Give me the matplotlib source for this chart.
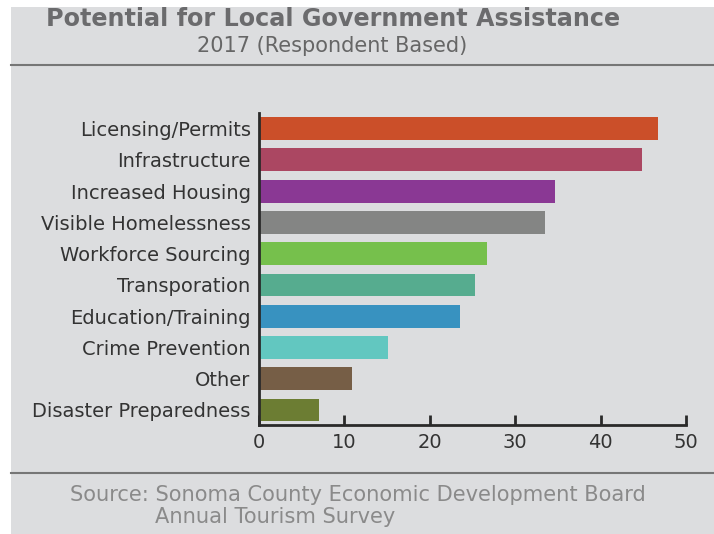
import matplotlib
matplotlib.use("Agg")
import matplotlib.pyplot as plt
from matplotlib.patches import Rectangle
from matplotlib.lines import Line2D

categories = ["Licensing/Permits", "Infrastructure", "Increased Housing",
              "Visible Homelessness", "Workforce Sourcing", "Transporation",
              "Education/Training", "Crime Prevention", "Other",
              "Disaster Preparedness"]
values = [46.7, 44.9, 34.7, 33.5, 26.7, 25.3, 23.5, 15.1, 10.9, 7.0]
colors = ["#cb4f29", "#ab4762", "#8a3894", "#848584", "#76c04c",
          "#56ac8f", "#3892c0", "#62c7c0", "#765e46", "#6c7d33"]
xticks = [0, 10, 20, 30, 40, 50]

W, H = 714, 534
bg = "#dcdddf"
axis_col = "#2a2a2a"
plt.rcParams["font.family"] = ["DejaVu Sans"]

fig = plt.figure(figsize=(W / 100, H / 100), dpi=100, facecolor="white")

# grey panel behind everything
fig.add_artist(Rectangle((11 / W, 0), 1 - 11 / W, (H - 7) / H,
                         transform=fig.transFigure, facecolor=bg,
                         edgecolor="none", zorder=0))
for yy in (64.5, 473):
    fig.add_artist(Line2D([11 / W, 1], [1 - yy / H, 1 - yy / H],
                          transform=fig.transFigure, color="#767676",
                          linewidth=1.5, zorder=1))

ax = fig.add_axes([259 / W, 1 - 425 / H, (686 - 259) / W, (425 - 113) / H])
ax.set_facecolor("none")

ypos = list(range(len(categories)))
ax.barh(ypos, values, height=0.73, color=colors, zorder=2)
ax.set_ylim(len(categories) - 0.52, -0.5)
ax.set_xlim(0, 50)

ax.set_yticks(ypos)
ax.set_yticklabels(categories, fontsize=14, color="#333333")
ax.set_xticks(xticks)
ax.set_xticklabels([str(t) for t in xticks], fontsize=14, color="#333333")
ax.tick_params(axis="y", length=0, pad=6)
ax.tick_params(axis="x", direction="in", length=7, width=2,
               color=axis_col, pad=6)

for side in ("top", "right"):
    ax.spines[side].set_visible(False)
for side in ("left", "bottom"):
    ax.spines[side].set_color(axis_col)
    ax.spines[side].set_linewidth(2)

fig.text(333 / W, 1 - 19 / H, "Potential for Local Government Assistance",
         ha="center", va="center", fontsize=17.2, fontweight="bold",
         color="#6b6b6d")
fig.text(332 / W, 1 - 46 / H, "2017 (Respondent Based)",
         ha="center", va="center", fontsize=15, color="#666666")
fig.text(70 / W, 1 - 495 / H,
         "Source: Sonoma County Economic Development Board",
         ha="left", va="center", fontsize=15.1, color="#8a8a8a")
fig.text(155 / W, 1 - 517 / H, "Annual Tourism Survey",
         ha="left", va="center", fontsize=15.1, color="#8a8a8a")

fig.savefig("out.png", dpi=100, facecolor="white")
